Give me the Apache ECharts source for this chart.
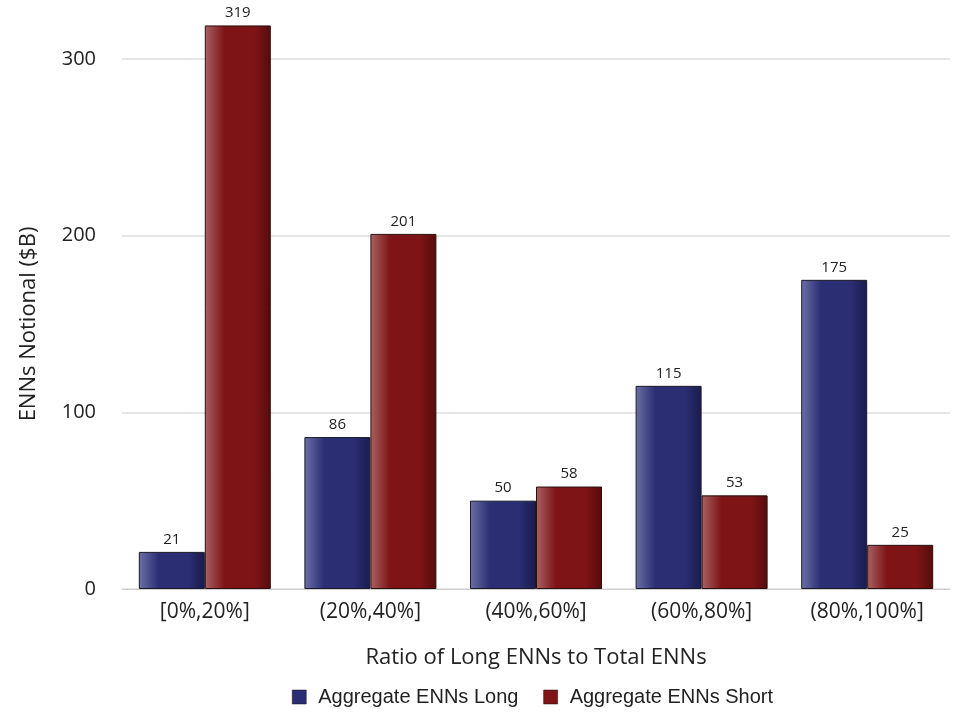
<!DOCTYPE html>
<html><head><meta charset="utf-8">
<script src="https://cdn.jsdelivr.net/npm/echarts@6/dist/echarts.min.js"></script>
<style>html,body{margin:0;padding:0;background:#fff}#c{width:956px;height:712px}</style>
</head><body><div id="c"></div>
<script>
const categories = ['[0%,20%]', '(20%,40%]', '(40%,60%]', '(60%,80%]', '(80%,100%]'];
const longValues = [21, 86, 50, 115, 175];
const shortValues = [319, 201, 58, 53, 25];
const seriesNames = ['Aggregate ENNs Long', 'Aggregate ENNs Short'];

function grad(light, base, dark) {
  return new echarts.graphic.LinearGradient(0, 0, 1, 0, [
    {offset: 0, color: light}, {offset: 0.3, color: base}, {offset: 0.75, color: base}, {offset: 1, color: dark}
  ]);
}
const chart = echarts.init(document.getElementById('c'));
const lbl = {show: true, position: 'top', distance: 5, color: '#222', fontSize: 15, fontFamily: 'Open Sans'};
chart.setOption({
  animation: false,
  grid: {left: 122, right: 6, top: 59, bottom: 123},
  legend: {
    bottom: 0, left: 287, itemWidth: 14, itemHeight: 14, itemGap: 25,
    icon: 'rect',
    textStyle: {fontSize: 20, color: '#222', fontFamily: 'Liberation Sans', padding: [0, 0, 0, 7]},
    data: [
      {name: seriesNames[0], itemStyle: {color: '#2b2e72', borderColor: '#111', borderWidth: 0.5}},
      {name: seriesNames[1], itemStyle: {color: '#7e1416', borderColor: '#111', borderWidth: 0.5}}
    ]
  },
  xAxis: {
    type: 'category', data: categories,
    name: 'Ratio of Long ENNs to Total ENNs', nameLocation: 'middle', nameGap: 58,
    nameTextStyle: {fontSize: 22, color: '#222', fontFamily: 'Open Sans'},
    axisLine: {lineStyle: {color: '#cfcfcf'}},
    axisTick: {show: false},
    axisLabel: {fontSize: 21, color: '#222', margin: 13, fontFamily: 'Open Sans'}
  },
  yAxis: {
    type: 'value', min: 0, max: 300, interval: 100,
    name: 'ENNs Notional ($B)', nameLocation: 'middle', nameGap: 82, nameRotate: 90,
    nameTextStyle: {fontSize: 22, color: '#222', fontFamily: 'Open Sans'},
    axisLine: {show: false}, axisTick: {show: false},
    axisLabel: {fontSize: 20, color: '#222', margin: 26, fontFamily: 'Open Sans'},
    splitLine: {lineStyle: {color: '#dcdcdc', width: 1.5}}
  },
  series: [
    {name: seriesNames[0], type: 'bar', data: longValues, barWidth: 66, barGap: '0%', clip: false,
     itemStyle: {color: grad('#6c70a6', '#2b2e72', '#1a1b4e'), borderColor: '#1a1a2a', borderWidth: 1},
     label: lbl},
    {name: seriesNames[1], type: 'bar', data: shortValues, barWidth: 66, barGap: '0%', clip: false,
     itemStyle: {color: grad('#a86264', '#7e1416', '#560b0c'), borderColor: '#2a1010', borderWidth: 1},
     label: lbl}
  ]
});
</script></body></html>
